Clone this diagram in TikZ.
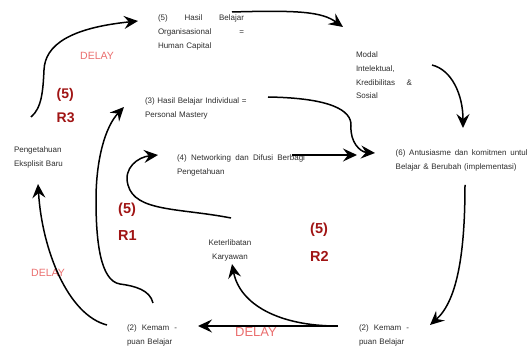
\documentclass[tikz,border=0pt]{standalone}
\usepackage{fontspec}
\setmainfont{Liberation Sans}
\usetikzlibrary{arrows.meta}
\definecolor{delaypink}{RGB}{234,110,110}
\definecolor{loopred}{RGB}{160,20,20}
\definecolor{txtgray}{RGB}{45,45,45}
\newcommand\myjust[2]{\leavevmode\hbox to #1{#2}}
\tikzset{
  lbl/.style={inner sep=0pt, outer sep=0pt, anchor=base west, align=left, text=txtgray,
    font=\fontsize{8}{13.8}\selectfont},
  delaytxt/.style={inner sep=0pt, text=delaypink},
  looptxt/.style={inner sep=0pt, anchor=base west, align=left, text=loopred, text width=30pt},
  arr/.style={line width=1.5pt, -{Stealth[length=14pt,width=13pt,inset=5pt]}},
}
\begin{document}
\begin{tikzpicture}[x=1pt,y=-1pt]
\useasboundingbox (0,0) rectangle (531,347);
% text nodes
\node[lbl, text width=86pt] (hasil) at (158,20.5)
  {\myjust{86pt}{(5)\hfill Hasil\hfill Belajar}\\\myjust{86pt}{Organisasional\hfill =}\\Human Capital};
\node[lbl, text width=56pt] (modal) at (356,57.5)
  {Modal\\Intelektual,\\\myjust{56pt}{Kredibilitas\hfill \&}\\Sosial};
\node[lbl, text width=132pt] (six) at (395.7,155.5)
  {\myjust{132pt}{(6)\hfill Antusiasme\hfill dan\hfill komitmen\hfill untul}\\Belajar \& Berubah (implementasi)};
\node[lbl, text width=110pt] (three) at (145,104)
  {(3) Hasil Belajar Individual =\\Personal Mastery};
\node[lbl, text width=128pt] (four) at (177,160.5)
  {\myjust{128pt}{(4)\hfill Networking\hfill dan\hfill Difusi\hfill Berbagi}\\Pengetahuan};
\node[lbl, text width=60pt] (peng) at (14,152.5)
  {Pengetahuan\\Eksplisit Baru};
\node[lbl, text width=60pt, align=center, anchor=base] (ket) at (230,245.5)
  {Keterlibatan\\Karyawan};
\node[lbl, text width=50pt] (kl) at (127,330.5)
  {\myjust{50pt}{(2)\hfill Kemam\hfill -}\\puan Belajar};
\node[lbl, text width=50pt] (kr) at (359,330.5)
  {\myjust{50pt}{(2)\hfill Kemam\hfill -}\\puan Belajar};
% delays
\node[delaytxt, font=\fontsize{10.5}{12}\selectfont] (d1) at (97,56) {DELAY};
\node[delaytxt, font=\fontsize{10.5}{12}\selectfont] (d2) at (48,273) {DELAY};
\node[delaytxt, font=\fontsize{13}{15}\selectfont] (d3) at (256,332) {DELAY};
% loop labels
\node[looptxt, font=\fontsize{14}{24}\selectfont\bfseries] (r3) at (56.5,99) {(5)\\R3};
\node[looptxt, font=\fontsize{14.5}{27}\selectfont\bfseries] (r1) at (118,214) {(5)\\R1};
\node[looptxt, font=\fontsize{14.5}{28}\selectfont\bfseries] (r2) at (310,234) {(5)\\R2};
% connector end points
\coordinate (a1s) at (31,117);  \coordinate (a1t) at (138,21);
\coordinate (a2s) at (232,12);  \coordinate (a2t) at (343,27);
\coordinate (a3s) at (432,65);  \coordinate (a3t) at (463,128);
\coordinate (a4s) at (268,97);  \coordinate (a4t) at (375,153);
\coordinate (a5s) at (292,155); \coordinate (a5t) at (357,155);
\coordinate (a6s) at (465,185); \coordinate (a6t) at (430,325);
\coordinate (a7s) at (338,326); \coordinate (a7t) at (198,326);
\coordinate (a8s) at (337,326); \coordinate (a8t) at (232,264);
\coordinate (a9s) at (231,218); \coordinate (a9t) at (158,155);
\coordinate (a10s) at (153,303); \coordinate (a10t) at (124,107);
\coordinate (a11s) at (107,325); \coordinate (a11t) at (38,184);
% connectors
\draw[arr] (a1s) .. controls (42,108) and (43,90) .. (44,70) .. controls (45,45) and (70,28) .. (a1t);
\draw[arr] (a2s) .. controls (300,10) and (322,12) .. (a2t);
\draw[arr] (a3s) .. controls (452,70) and (463,95) .. (a3t);
\draw[arr] (a4s) .. controls (330,98) and (352,110) .. (351,126) .. controls (350,142) and (360,152) .. (a4t);
\draw[arr] (a5s) -- (a5t);
\draw[arr] (a6s) .. controls (465,250) and (458,300) .. (a6t);
\draw[arr] (a7s) -- (a7t);
\draw[arr] (a8s) .. controls (280,326) and (240,305) .. (a8t);
\draw[arr] (a9s) .. controls (180,208) and (135,212) .. (128,185) .. controls (123,168) and (138,157) .. (a9t);
\draw[arr] (a10s) .. controls (150,290) and (135,286) .. (120,284) .. controls (100,281) and (96,240) .. (96,200) .. controls (96,160) and (105,127) .. (a10t);
\draw[arr] (a11s) .. controls (68,315) and (42,250) .. (a11t);
\end{tikzpicture}
\end{document}
